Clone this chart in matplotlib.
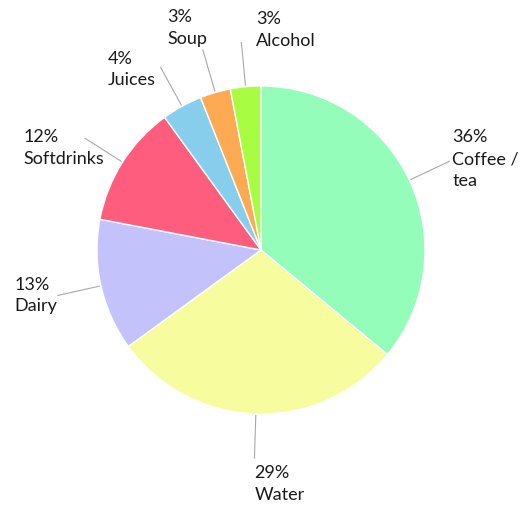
import numpy as np
import matplotlib
matplotlib.use("Agg")
import matplotlib.pyplot as plt

# Share of daily fluid intake by drink type
categories = ["Coffee /\ntea", "Water", "Dairy", "Softdrinks", "Juices", "Soup", "Alcohol"]
shares = [36, 29, 13, 12, 4, 3, 3]
colors = ["#93fdb9", "#f7fd9e", "#c3c2fa", "#fe5d7e", "#86ceec", "#fdaa52", "#a8fc42"]

# label placement: alignment and pixel offset from the end of each leader line
label_ha = ["left", "left", "right", "right", "right", "right", "left"]
label_off = [(3, 2), (0, -26), (0, 0), (19, -10), (-5, -2), (4, 22), (15, 13)]

plt.rcParams["font.family"] = ["Lato", "DejaVu Sans"]

fig = plt.figure(figsize=(5.28, 5.08), dpi=100)
ax = fig.add_axes([0, 0, 1, 1])

wedges, _ = ax.pie(shares, colors=colors, startangle=90, counterclock=False,
                   radius=1.0, wedgeprops=dict(edgecolor="white", linewidth=1.0))

for w, name, pct, ha, off in zip(wedges, categories, shares, label_ha, label_off):
    mid = np.deg2rad((w.theta1 + w.theta2) / 2)
    d = np.array([np.cos(mid), np.sin(mid)])
    p0, p1 = d * 1.01, d * 1.27
    ax.plot([p0[0], p1[0]], [p0[1], p1[1]], color="#a8a8a8", lw=0.8)
    ax.annotate(f"{pct}%\n{name}", xy=p1, xytext=off, textcoords="offset pixels",
                ha=ha, va="center", multialignment="left",
                fontsize=13, color="#1a1a1a", linespacing=1.45)

ax.set_xlim(-261 / 164, (528 - 261) / 164)
ax.set_ylim(-(508 - 250) / 164, 250 / 164)
ax.set_aspect("auto")
ax.axis("off")

fig.savefig("out.png", dpi=100, facecolor="white")
